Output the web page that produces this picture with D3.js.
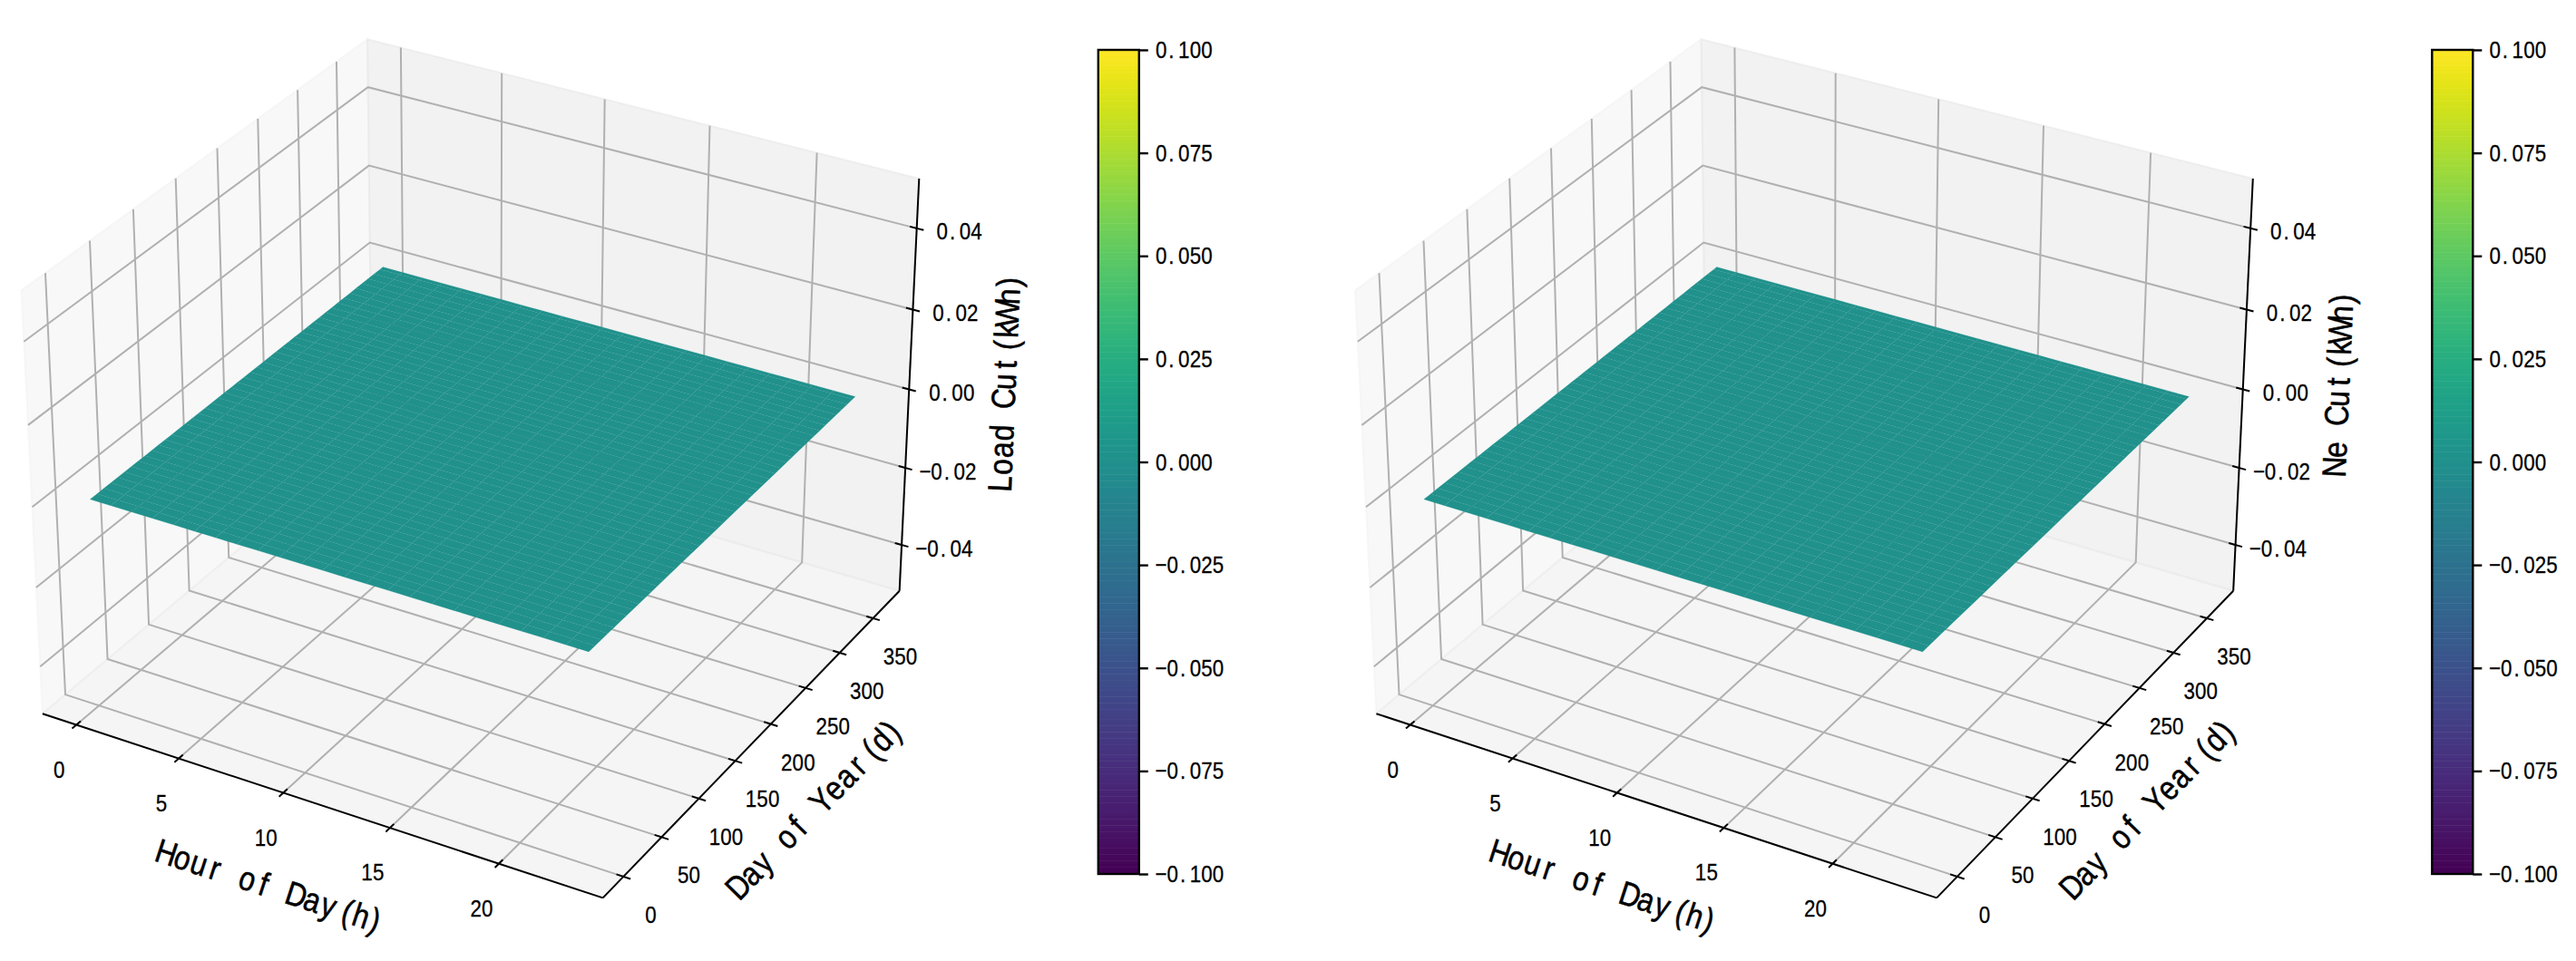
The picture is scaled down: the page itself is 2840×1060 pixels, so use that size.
<!DOCTYPE html>
<html>
<head>
<meta charset="utf-8">
<script src="https://cdnjs.cloudflare.com/ajax/libs/d3/7.8.5/d3.min.js"></script>
<style>
body { margin: 0; background: #fff; }
text { font-family: "Liberation Sans", sans-serif; fill: #000; stroke: #000; stroke-width: 0.3; }
text.axis_label { stroke-width: 0.55; }
</style>
</head>
<body>
<script>
// values
var hours = [0,1,2,3,4,5,6,7,8,9,10,11,12,13,14,15,16,17,18,19,20,21,22,23]
var days = [0,8,16,24,32,40,48,56,64,72,80,88,96,104,112,120,128,136,144,152,160,168,176,184,192,200,208,216,224,232,240,248,256,264,272,280,288,296,304,312,320,328,336,344,352,360,364]
var load_cut = [0,0,0,0,0,0,0,0,0,0,0,0,0,0,0,0,0,0,0,0,0,0,0,0,0,0,0,0,0,0,0,0,0,0,0,0,0,0,0,0,0,0,0,0,0,0,0]
var ne_cut = [0,0,0,0,0,0,0,0,0,0,0,0,0,0,0,0,0,0,0,0,0,0,0,0,0,0,0,0,0,0,0,0,0,0,0,0,0,0,0,0,0,0,0,0,0,0,0]
var x_ticks = [0,5,10,15,20]
var y_ticks = [0,50,100,150,200,250,300,350]
var z_ticks = [-0.04,-0.02,0,0.02,0.04]
var cb_ticks = [-0.1,-0.075,-0.05,-0.025,0,0.025,0.05,0.075,0.1]
var panels = [
	{zlabel: 'Load Cut(kWh)', cut: load_cut, dx: 0},
	{zlabel: 'Ne Cut(kWh)', cut: ne_cut, dx: 1470.5}
]

var x_lim = [-1.15, 24.15], y_lim = [-18.2, 382.2], z_lim = [-0.05, 0.05]
var cb_dom = [-0.1, 0.1]

// pane edges sit 1/48 of the range outside the limits
function pad(l) { var d = (l[1]-l[0])/48; return [l[0]-d, l[1]+d] }
var xp = pad(x_lim), yp = pad(y_lim), zp = pad(z_lim)

// same camera as a default mplot3d view (elev 30, azim -60, dist 10)
var box_scale = 1.8294640721620434*25/24/Math.sqrt(41)
var box = [4*box_scale, 4*box_scale, 3*box_scale]
var elev = 30*Math.PI/180, azim = -60*Math.PI/180, dist = 10
var w = [Math.cos(elev)*Math.cos(azim), Math.cos(elev)*Math.sin(azim), Math.sin(elev)]
var ulen = Math.sqrt(w[0]*w[0]+w[1]*w[1])
var u = [-w[1]/ulen, w[0]/ulen, 0]
var v = [w[1]*u[2]-w[2]*u[1], w[2]*u[0]-w[0]*u[2], w[0]*u[1]-w[1]*u[0]]
var eye = [box[0]/2+dist*w[0], box[1]/2+dist*w[1], box[2]/2+dist*w[2]]
var dot = (a,b) => a[0]*b[0]+a[1]*b[1]+a[2]*b[2]

var wx = d3.scaleLinear().domain(x_lim).range([0, box[0]])
var wy = d3.scaleLinear().domain(y_lim).range([0, box[1]])
var wz = d3.scaleLinear().domain(z_lim).range([0, box[2]])

function cam(x, y, z) {
	var p = [wx(x)-eye[0], wy(y)-eye[1], wz(z)-eye[2]]
	var d = -dot(p, w)
	return [dot(p, u)/d, dot(p, v)/d]
}

// screen scales anchored on the outer corners of the box
var sx = d3.scaleLinear().domain([cam(xp[0],yp[0],zp[1])[0], cam(xp[1],yp[1],zp[1])[0]]).range([23.5, 1013.3])
var sy = d3.scaleLinear().domain([cam(xp[1],yp[0],zp[0])[1], cam(xp[0],yp[1],zp[1])[1]]).range([990.4, 43.3])
function proj(x, y, z) { var c = cam(x, y, z); return [sx(c[0]), sy(c[1])] }
var line3 = d3.line()

var svg = d3.select('body').append('svg').attr('width', 2840).attr('height', 1060)

var ctx = document.createElement('canvas').getContext('2d')

// half width cell layout like the original font, text stays one string
function label(g, s, x, y, size, cell, rot, squeeze, cls) {
	ctx.font = size+'px "Liberation Sans"'
	var c = cell/squeeze
	var xs = s.split('').map((ch, i) => {
		var off = (c-ctx.measureText(ch).width)/2
		if (ch == '.') off *= 0.6
		if (ch == '(') off *= 1.7
		if (ch == ')') off *= 0.3
		return (i-s.length/2)*c+off
	}).join(' ')
	g.append('text')
		.attr('class', cls || 'tick_label')
		.attr('transform', 'translate('+x+','+y+') rotate('+rot+') scale('+squeeze+',1)')
		.attr('x', xs).attr('dy', '0.35em')
		.attr('font-size', size)
		.text(s)
}

function draw_panel(p) {
	var g = svg.append('g').attr('transform', 'translate('+p.dx+',0)')

	// panes
	var panes = [
		{pts: [[xp[0],yp[0],zp[0]],[xp[0],yp[1],zp[0]],[xp[0],yp[1],zp[1]],[xp[0],yp[0],zp[1]]], fill: 'rgb(242,242,242)'},
		{pts: [[xp[0],yp[1],zp[0]],[xp[1],yp[1],zp[0]],[xp[1],yp[1],zp[1]],[xp[0],yp[1],zp[1]]], fill: 'rgb(230,230,230)'},
		{pts: [[xp[0],yp[0],zp[0]],[xp[1],yp[0],zp[0]],[xp[1],yp[1],zp[0]],[xp[0],yp[1],zp[0]]], fill: 'rgb(236,236,236)'}
	]
	g.selectAll('.pane').data(panes).enter().append('path')
		.attr('class', 'pane')
		.attr('d', d => line3(d.pts.map(q => proj(q[0],q[1],q[2])))+'Z')
		.attr('fill', d => d.fill).attr('fill-opacity', 0.5)
		.attr('stroke', d => d.fill).attr('stroke-opacity', 0.5).attr('stroke-width', 2)

	// grid
	var grid = []
	x_ticks.forEach(t => grid.push([[t,yp[0],zp[0]],[t,yp[1],zp[0]],[t,yp[1],zp[1]]]))
	y_ticks.forEach(t => grid.push([[xp[1],t,zp[0]],[xp[0],t,zp[0]],[xp[0],t,zp[1]]]))
	z_ticks.forEach(t => grid.push([[xp[0],yp[0],t],[xp[0],yp[1],t],[xp[1],yp[1],t]]))
	g.selectAll('.grid').data(grid).enter().append('path')
		.attr('class', 'grid')
		.attr('d', d => line3(d.map(q => proj(q[0],q[1],q[2]))))
		.attr('fill', 'none').attr('stroke', '#b0b0b0').attr('stroke-width', 2)

	// axis lines
	var edges = [
		[[xp[0],yp[0],zp[0]],[xp[1],yp[0],zp[0]]],
		[[xp[1],yp[0],zp[0]],[xp[1],yp[1],zp[0]]],
		[[xp[1],yp[1],zp[0]],[xp[1],yp[1],zp[1]]]
	]
	g.selectAll('.edge').data(edges).enter().append('path')
		.attr('class', 'edge')
		.attr('d', d => line3(d.map(q => proj(q[0],q[1],q[2]))))
		.attr('fill', 'none').attr('stroke', '#000').attr('stroke-width', 2)

	// tick marks
	var dxt = (x_lim[1]-x_lim[0])/12, dyt = (y_lim[1]-y_lim[0])/12
	var tk = []
	x_ticks.forEach(t => tk.push([[t,yp[0]-0.15*dyt,zp[0]],[t,yp[0]+0.15*dyt,zp[0]]]))
	y_ticks.forEach(t => tk.push([[xp[1]+0.15*dxt,t,zp[0]],[xp[1]-0.15*dxt,t,zp[0]]]))
	z_ticks.forEach(t => tk.push([[xp[1]+0.15*dxt,yp[1],t],[xp[1]-0.15*dxt,yp[1],t]]))
	g.selectAll('.tk').data(tk).enter().append('path')
		.attr('class', 'tk')
		.attr('d', d => line3(d.map(q => proj(q[0],q[1],q[2]))))
		.attr('fill', 'none').attr('stroke', '#000').attr('stroke-width', 2)

	// surface, zero everywhere so painted as one colour per cell
	var color = d3.scaleSequential(d3.interpolateViridis).domain(cb_dom)
	var cells = []
	for (var i = 0; i < days.length-1; i++) {
		for (var j = 0; j < hours.length-1; j++) {
			cells.push({h0: hours[j], h1: hours[j+1], d0: days[i], d1: days[i+1], a: p.cut[i], b: p.cut[i+1]})
		}
	}
	g.selectAll('.cell').data(cells).enter().append('path')
		.attr('class', 'cell')
		.attr('d', d => line3([proj(d.h0,d.d0,d.a),proj(d.h1,d.d0,d.a),proj(d.h1,d.d1,d.b),proj(d.h0,d.d1,d.b)])+'Z')
		.attr('fill', d => color((d.a+d.b)/2))
		.attr('stroke', d => color((d.a+d.b)/2)).attr('stroke-width', 0.2)

	// tick labels
	x_ticks.forEach(t => { var q = proj(t,yp[0],zp[0]); label(g, String(t), q[0]-19, q[1]+49, 26, 12.6, 0, 0.86) })
	y_ticks.forEach(t => { var q = proj(xp[1],t,zp[0]); label(g, String(t), q[0]+30, q[1]+42, 26, 12.6, 0, 0.86) })
	z_ticks.forEach(t => {
		var q = proj(xp[1],yp[1],t)
		label(g, d3.format('.2f')(t).replace('-', '\u2212'), q[0]+47, q[1]+3.5, 26, 12.6, 0, 0.86)
	})

	// axis labels
	label(g, 'Hour of Day(h)', 300, 978, 37, 18.8, 18, 0.86, 'axis_label')
	label(g, 'Day of Year(d)', 899, 890, 37, 18.8, -45.7, 0.86, 'axis_label')
	label(g, p.zlabel, 1107, 421, 37, 18.8, -87.5, 0.86, 'axis_label')

	// colorbar
	var cb_y = d3.scaleLinear().domain(cb_dom).range([964, 55])
	var cb_x = 1210.8, cb_w = 45
	var levels = d3.range(256).map(i => cb_dom[0]+(cb_dom[1]-cb_dom[0])*i/256)
	var step = (cb_dom[1]-cb_dom[0])/256
	g.selectAll('.lvl').data(levels).enter().append('rect')
		.attr('class', 'lvl')
		.attr('x', cb_x).attr('width', cb_w)
		.attr('y', d => cb_y(d+step)-0.5)
		.attr('height', d => cb_y(d)-cb_y(d+step)+0.5)
		.attr('fill', d => color(d+step/2))
	g.append('rect').attr('x', cb_x).attr('y', 55).attr('width', cb_w).attr('height', 909)
		.attr('fill', 'none').attr('stroke', '#000').attr('stroke-width', 2.4)
	var cb_axis = g.append('g').attr('transform', 'translate('+(cb_x+cb_w)+',0)')
		.call(d3.axisRight(cb_y).tickValues(cb_ticks).tickSize(10).tickFormat(''))
	cb_axis.select('.domain').remove()
	cb_axis.selectAll('line').attr('stroke', '#000').attr('stroke-width', 2.4)
	cb_ticks.forEach(t => {
		var s = d3.format('.3f')(t).replace('-', '\u2212')
		label(g, s, cb_x+cb_w+18+s.length*6.3, cb_y(t), 26, 12.6, 0, 0.86)
	})
}

panels.forEach(draw_panel)
</script>
</body>
</html>
